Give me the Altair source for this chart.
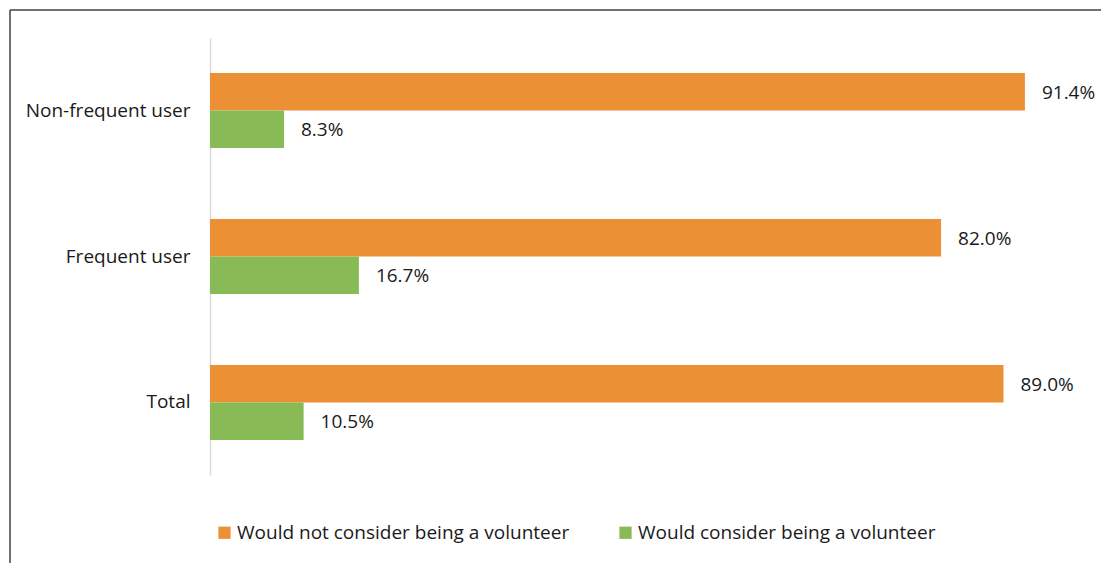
import altair as alt
import pandas as pd

categories = ["Non-frequent user", "Frequent user", "Total"]
series = ["Would not consider being a volunteer", "Would consider being a volunteer"]
not_consider = [0.914, 0.820, 0.890]
consider = [0.083, 0.167, 0.105]
colors = ["#EB9034", "#88BA55"]

rows = []
for c, a, b in zip(categories, not_consider, consider):
    rows.append({"category": c, "series": series[0], "value": a})
    rows.append({"category": c, "series": series[1], "value": b})
df = pd.DataFrame(rows)

FONT = "Open Sans"
TXT = "#1a1a1a"
FS = 19

y_enc = alt.Y("category:N", sort=categories,
              scale=alt.Scale(paddingInner=0.486, paddingOuter=0.24),
              axis=alt.Axis(title=None, ticks=False, domain=True, domainColor="#d9d9d9",
                            domainWidth=1.5, labelFontSize=FS, labelColor=TXT,
                            labelFont=FONT, labelPadding=20, labelLimit=400))
x_enc = alt.X("value:Q", scale=alt.Scale(domain=[0, 0.95], nice=False), axis=None)
yoff = alt.YOffset("series:N", sort=series)

bars = alt.Chart(df).mark_bar().encode(
    y=y_enc, x=x_enc, yOffset=yoff,
    color=alt.Color("series:N", sort=series,
                    scale=alt.Scale(domain=series, range=colors),
                    legend=alt.Legend(title=None, orient="none", legendX=5, legendY=485,
                                      direction="horizontal", symbolType="square",
                                      symbolSize=150, symbolStrokeWidth=0,
                                      labelFontSize=FS, labelFont=FONT, labelColor=TXT,
                                      labelOffset=3, columnPadding=46, labelLimit=500))
)

labels = alt.Chart(df).mark_text(align="left", baseline="middle", dx=17, dy=1, fontSize=FS,
                                 font=FONT, color=TXT).encode(
    y=alt.Y("category:N", sort=categories), x="value:Q", yOffset=yoff,
    text=alt.Text("value:Q", format=".1%")
)

frame_df = pd.DataFrame({"k": [0]})
top_line = alt.Chart(frame_df).mark_rule(color="#404040", strokeWidth=1.5).encode(
    x=alt.value(-200), x2=alt.value(900), y=alt.value(-28))
left_line = alt.Chart(frame_df).mark_rule(color="#404040", strokeWidth=1.5).encode(
    x=alt.value(-200), y=alt.value(-28), y2=alt.value(540))

chart = alt.layer(bars, labels, top_line, left_line).properties(
    width=847, height=437,
    background="white",
    autosize=alt.AutoSizeParams(type="none"),
    padding={"left": 210, "top": 38, "right": 44, "bottom": 88},
).configure_view(strokeWidth=0, stroke=None)

chart.save("out.html", embed_options={"renderer": "svg", "actions": False})
